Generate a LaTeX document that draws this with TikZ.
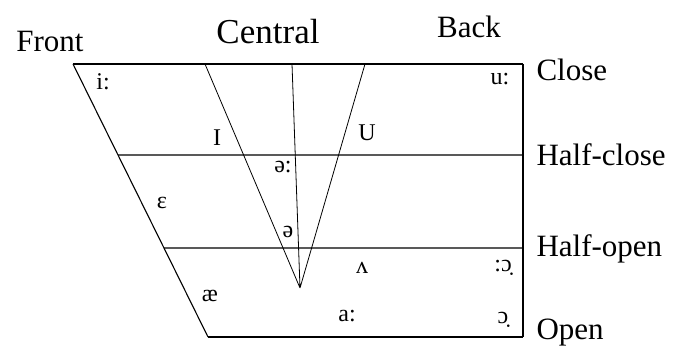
\documentclass[tikz,border=0pt]{standalone}
\usepackage{fontspec}
\setmainfont{Liberation Serif}
\usetikzlibrary{calc}
\begin{document}
\begin{tikzpicture}[x=1pt,y=-1pt,line width=1.1pt,
  every node/.style={inner sep=0pt},
  heading/.style={font=\fontsize{31}{34}\selectfont},
  level/.style={font=\fontsize{31}{34}\selectfont,anchor=west},
  vowel/.style={font=\fontsize{24}{27}\selectfont}]
\useasboundingbox (0,0) rectangle (677,350);
% corners of the chart
\coordinate (tl) at (73,64);
\coordinate (bl) at (208,337);
\coordinate (tr) at (523,64);
\coordinate (br) at (523,337);
\coordinate (apex) at (300,288);
% outline and height lines
\draw (tl) -- (bl);
\draw (tr) -- (br);
\foreach \y/\n/\t/\ly in {64/close/Close/70, 155/hclose/Half-close/155, 248/hopen/Half-open/249, 337/open/Open/333} {
  \coordinate (l\n) at ($(tl)!{(\y-64)/273}!(bl)$);
  \draw (l\n) -- (523,\y);
  \node[level] (t\n) at (536,\ly) {\t};
}
% central lines
\coordinate (c1) at (205,64);
\coordinate (c2) at (292,64);
\coordinate (c3) at (365,64);
\draw[line width=0.8pt] (c1) -- (apex) (c2) -- (apex) (c3) -- (apex);
% headings
\node[heading] (front) at (50,42) {Front};
\node[heading,font=\fontsize{35}{38}\selectfont] (central) at (268,32) {Central};
\node[heading] (back) at (469,27) {Back};
% vowels
\foreach \x/\y/\v/\n in {103/82/i:/ii, 217/138/I/ih, 283/167/ə:/er, 500/79/u:/uu, 367/133/U/uh,
  162/203/ε/eh, 288/232/ə/schwa, 210/296/æ/ae, 362/268/ʌ/uh2, 503/268/:ɔ̣/oo, 347/316/a:/aa, 503/320/ɔ̣/o} {
  \node[vowel] (v\n) at (\x,\y) {\v};
}
\end{tikzpicture}
\end{document}
